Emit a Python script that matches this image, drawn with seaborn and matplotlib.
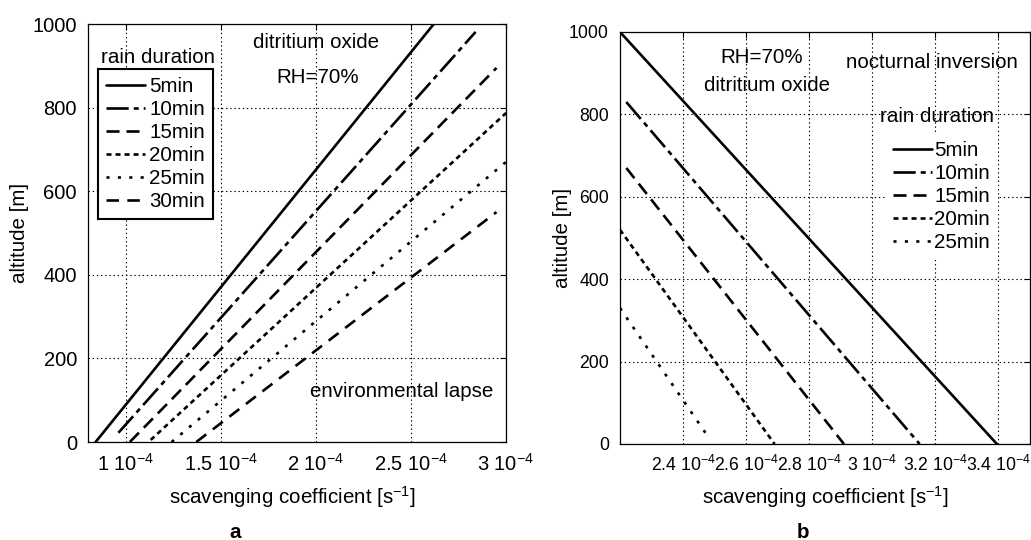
import numpy as np
import pandas as pd
import matplotlib
matplotlib.use("Agg")
import matplotlib.pyplot as plt
import seaborn as sns

# panel a: environmental lapse, straight lines given by their two end points
durations_a = ['5min', '10min', '15min', '20min', '25min', '30min']
coef_start_a = [0.84, 0.96, 1.02, 1.13, 1.24, 1.37]   # x 1e-4 s^-1
alt_start_a = [0, 22, 0, 5, 0, 0]
coef_end_a = [2.62, 2.84, 2.95, 3.0, 3.0, 2.95]
alt_end_a = [1000, 981, 895, 787, 670, 550]

# panel b: nocturnal inversion
durations_b = ['5min', '10min', '15min', '20min', '25min']
coef_start_b = [2.2, 2.22, 2.22, 2.2, 2.2]
alt_start_b = [1000, 830, 670, 520, 330]
coef_end_b = [3.395, 3.15, 2.91, 2.69, 2.48]
alt_end_b = [0, 0, 0, 0, 17]

xticks_a = [1, 1.5, 2, 2.5, 3]
xticks_b = [2.4, 2.6, 2.8, 3.0, 3.2, 3.4]
yticks = [0, 200, 400, 600, 800, 1000]

sns.set_theme(style='white')
plt.rcParams['font.family'] = ['Liberation Sans', 'DejaVu Sans']
plt.rcParams['mathtext.fontset'] = 'custom'
plt.rcParams['mathtext.rm'] = 'Liberation Sans'
plt.rcParams['mathtext.it'] = 'Liberation Sans:italic'
plt.rcParams['lines.scale_dashes'] = False
plt.rcParams['text.color'] = 'black'
plt.rcParams['axes.labelcolor'] = 'black'

dash_styles = {
    '5min': '',
    '10min': (16, 3.6, 3.6, 3.6),
    '15min': (9.4, 5),
    '20min': (3.6, 2.9),
    '25min': (2.2, 6),
    '30min': (9, 6),
}


def make_df(names, x0, y0, x1, y1):
    rows = []
    for n, a, b, c, d in zip(names, x0, y0, x1, y1):
        rows.append({'duration': n, 'coef': a * 1e-4, 'alt': b})
        rows.append({'duration': n, 'coef': c * 1e-4, 'alt': d})
    return pd.DataFrame(rows)


df_a = make_df(durations_a, coef_start_a, alt_start_a, coef_end_a, alt_end_a)
df_b = make_df(durations_b, coef_start_b, alt_start_b, coef_end_b, alt_end_b)

fig = plt.figure(figsize=(10.31, 5.40), dpi=100)
W, H = 1031, 540
ax_a = fig.add_axes([88 / W, (H - 442) / H, 418 / W, 418 / H])
ax_b = fig.add_axes([620 / W, (H - 444) / H, 410 / W, 412 / H])


def style_axis(ax, xticks, xlim, tick_size):
    ax.set_xlim(xlim[0] * 1e-4, xlim[1] * 1e-4)
    ax.set_ylim(0, 1000)
    ax.set_xticks([t * 1e-4 for t in xticks])
    ax.set_xticklabels(['%g 10$^{-4}$' % t for t in xticks])
    ax.set_yticks(yticks)
    ax.tick_params(direction='in', top=True, right=True, length=4, width=0.8,
                   color='black', labelsize=tick_size, labelcolor='black', pad=8)
    ax.grid(True, color='black', linestyle=(0, (1, 2)), linewidth=0.8)
    for s in ax.spines.values():
        s.set_color('black')
        s.set_linewidth(0.9)
        s.set_visible(True)
    ax.set_facecolor('white')


sns.lineplot(data=df_a, x='coef', y='alt', style='duration', dashes=dash_styles,
             color='black', linewidth=1.9, legend=False, sort=False,
             estimator=None, ax=ax_a)
sns.lineplot(data=df_b, x='coef', y='alt', style='duration', dashes=dash_styles,
             color='black', linewidth=1.9, legend=False, sort=False,
             estimator=None, ax=ax_b)

style_axis(ax_a, xticks_a, (0.8, 3.0), 14.5)
style_axis(ax_b, xticks_b, (2.2, 3.5), 12.7)

fs = 14.8
for ax, cx, cy in [(ax_a, 0.49, -0.132), (ax_b, 0.5, -0.129)]:
    ax.set_xlabel('scavenging coefficient [s$^{-1}$]', fontsize=fs)
    ax.xaxis.set_label_coords(cx, cy)
    ax.xaxis.label.set_va('center')
for ax, cx in [(ax_a, -0.165), (ax_b, -0.141)]:
    ax.set_ylabel('altitude [m]', fontsize=fs)
    ax.yaxis.set_label_coords(cx, 0.5)
    ax.yaxis.label.set_va('center')

# annotations panel a
ax_a.text(0.545, 0.955, 'ditritium oxide', transform=ax_a.transAxes,
          ha='center', va='center', fontsize=fs)
ax_a.text(0.550, 0.871, 'RH=70%', transform=ax_a.transAxes,
          ha='center', va='center', fontsize=fs)
ax_a.text(0.751, 0.120, 'environmental lapse', transform=ax_a.transAxes,
          ha='center', va='center', fontsize=fs)
ax_a.text(0.167, 0.921, 'rain duration', transform=ax_a.transAxes,
          ha='center', va='center', fontsize=fs)

# annotations panel b
ax_b.text(0.346, 0.939, 'RH=70%', transform=ax_b.transAxes,
          ha='center', va='center', fontsize=fs)
ax_b.text(0.359, 0.869, 'ditritium oxide', transform=ax_b.transAxes,
          ha='center', va='center', fontsize=fs)
ax_b.text(0.761, 0.925, 'nocturnal inversion', transform=ax_b.transAxes,
          ha='center', va='center', fontsize=fs)
ax_b.text(0.773, 0.794, 'rain duration', transform=ax_b.transAxes,
          ha='center', va='center', fontsize=fs)

leg_a = ax_a.legend(ax_a.lines, durations_a, loc='upper left',
                    bbox_to_anchor=(0.024, 0.892), borderaxespad=0,
                    fontsize=fs, handlelength=1.9, handletextpad=0.2,
                    labelspacing=0.19, borderpad=0.4, fancybox=False,
                    frameon=True, framealpha=1, facecolor='white',
                    edgecolor='black')
leg_a.get_frame().set_linewidth(1.5)

leg_b = ax_b.legend(ax_b.lines, durations_b, loc='upper left',
                    bbox_to_anchor=(0.646, 0.755), borderaxespad=0,
                    fontsize=fs, handlelength=1.9, handletextpad=0.1,
                    labelspacing=0.19, borderpad=0.4, fancybox=False,
                    frameon=True, framealpha=1, facecolor='white',
                    edgecolor='none')

fig.text(235 / W, 1 - 532 / H, 'a', ha='center', va='center',
         fontsize=fs, fontweight='bold')
fig.text(803 / W, 1 - 532 / H, 'b', ha='center', va='center',
         fontsize=fs, fontweight='bold')

fig.savefig('out.png', dpi=100, facecolor='white')
